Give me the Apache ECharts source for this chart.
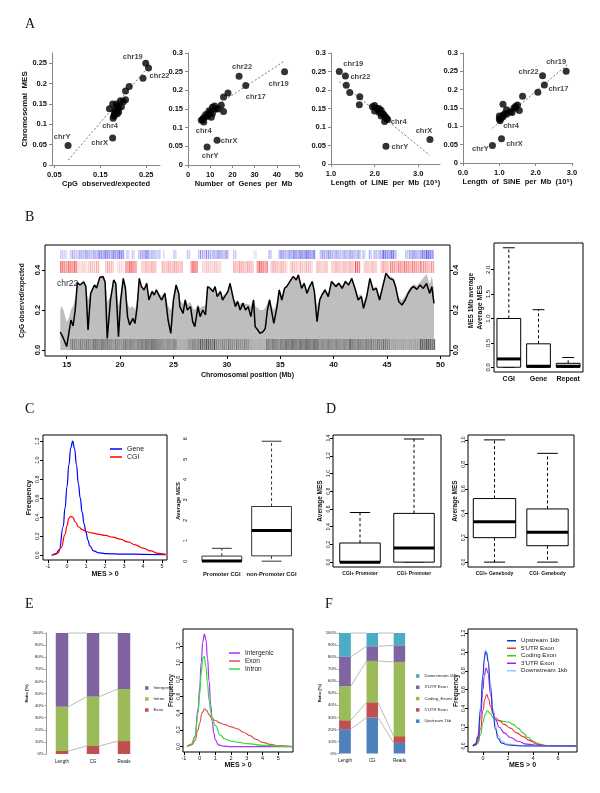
<!DOCTYPE html>
<html><head><meta charset="utf-8">
<script src="https://cdn.jsdelivr.net/npm/echarts@6/dist/echarts.min.js"></script>
<style>html,body{margin:0;padding:0;background:#fff}#c{width:600px;height:793px}</style>
</head><body><div id="c"></div>
<script>
// ================= DATA =================
// Panel A: per-chromosome values
const chrNames      = ['chr19','chr22','chr17','chr16','chr20','chr1','chr15','chr14','chr12','chr11','chr2','chr9','chr10','chr7','chr3','chr6','chr8','chr21','chr5','chr18','chr13','chr4','chrX','chrY'];
const chrMES        = [0.250,0.238,0.213,0.193,0.182,0.160,0.158,0.155,0.150,0.150,0.145,0.143,0.140,0.138,0.135,0.133,0.130,0.128,0.126,0.122,0.120,0.115,0.066,0.048];
const chrCpGoe      = [0.249,0.255,0.243,0.213,0.205,0.205,0.194,0.200,0.185,0.177,0.188,0.196,0.190,0.170,0.182,0.186,0.190,0.181,0.187,0.180,0.180,0.178,0.177,0.080];
const chrGenesPerMb = [43.5,23.0,26.0,18.0,16.0,15.0,12.0,11.0,12.5,13.5,9.5,16.0,10.0,11.0,8.0,9.0,8.5,10.5,7.0,6.5,6.0,7.1,13.1,8.6];
const chrLinePerMb  = [1.19,1.33,1.35,1.43,1.66,1.65,2.00,1.95,2.05,2.10,2.15,2.00,2.10,2.15,2.20,2.20,2.15,2.25,2.25,2.28,2.30,2.23,3.27,2.26];
const chrSinePerMb  = [2.84,2.19,2.24,2.06,1.64,1.10,1.50,1.45,1.40,1.45,1.20,1.55,1.30,1.35,1.15,1.20,1.10,1.00,1.10,1.05,1.00,1.02,1.06,0.81];
const fitCpG   = [[0.08,0.012],[0.25,0.235]];
const fitGenes = [[6,0.133],[43.6,0.279]];
const fitLine  = [[1.19,0.223],[3.26,0.024]];
const fitSine  = [[0.81,0.095],[2.87,0.268]];

// Panel B: chr22 tracks (Mb)
const bPos = [14.4,14.5,14.7,15.0,15.2,15.4,15.6,15.8,16.0,16.25,16.6,16.8,17.0,17.25,17.6,17.8,18.1,18.4,18.6,18.8,19.1,19.4,19.6,19.85,20.06,20.3,20.5,20.7,20.9,21.2,21.4,21.6,21.8,22.0,22.25,22.5,22.7,23.0,23.2,23.4,23.7,23.9,24.2,24.5,24.75,25.0,25.25,25.5,25.6,25.9,26.1,26.3,26.6,26.8,27.0,27.3,27.5,27.75,28.0,28.2,28.45,28.7,28.9,29.1,29.4,29.6,29.8,30.1,30.3,30.6,30.8,31.0,31.25,31.5,31.75,32.0,32.25,32.5,32.65,32.9,33.1,33.4,33.6,33.8,34.0,34.2,34.4,34.7,34.9,35.15,35.4,35.6,35.9,36.2,36.5,36.7,37.0,37.25,37.5,37.75,38.0,38.2,38.45,38.7,38.9,39.2,39.5,39.8,40.2,40.5,40.8,41.1,41.4,41.7,42.0,42.3,42.6,42.8,43.1,43.4,43.7,44.0,44.3,44.6,44.9,45.25,45.6,45.8,46.1,46.4,46.7,47.0,47.3,47.5,47.8,48.1,48.4,48.7,49.0,49.2,49.4];
const bMES = [0.09,0.083,0.058,0.017,0.083,0.15,0.12,0.2,0.337,0.325,0.34,0.317,0.1,0.283,0.325,0.31,0.363,0.367,0.34,0.058,0.25,0.35,0.333,0.067,0.25,0.358,0.31,0.167,0.125,0.158,0.133,0.217,0.358,0.317,0.3,0.333,0.25,0.292,0.275,0.3,0.267,0.25,0.283,0.15,0.083,0.25,0.325,0.283,0.217,0.183,0.25,0.2,0.217,0.142,0.117,0.217,0.167,0.2,0.175,0.317,0.308,0.292,0.317,0.267,0.292,0.25,0.267,0.292,0.333,0.258,0.217,0.242,0.2,0.233,0.2,0.217,0.167,0.25,0.117,0.1,0.083,0.092,0.108,0.2,0.25,0.192,0.133,0.217,0.3,0.25,0.308,0.317,0.342,0.367,0.35,0.375,0.308,0.333,0.283,0.317,0.342,0.292,0.142,0.25,0.275,0.3,0.267,0.342,0.317,0.333,0.308,0.342,0.325,0.358,0.308,0.25,0.267,0.208,0.267,0.358,0.3,0.308,0.25,0.317,0.383,0.358,0.35,0.317,0.242,0.225,0.25,0.285,0.31,0.317,0.303,0.325,0.308,0.333,0.283,0.317,0.233];
const bCpG = [0.2,0.22,0.2,0.14,0.16,0.2,0.22,0.26,0.34,0.33,0.35,0.32,0.25,0.29,0.33,0.32,0.37,0.37,0.35,0.24,0.27,0.35,0.34,0.22,0.27,0.36,0.32,0.23,0.21,0.22,0.2,0.25,0.36,0.32,0.31,0.34,0.27,0.3,0.29,0.31,0.28,0.27,0.29,0.22,0.2,0.26,0.33,0.29,0.25,0.23,0.26,0.23,0.24,0.21,0.2,0.23,0.21,0.22,0.22,0.32,0.31,0.3,0.32,0.28,0.3,0.27,0.28,0.3,0.34,0.27,0.24,0.25,0.23,0.24,0.23,0.23,0.22,0.26,0.22,0.21,0.2,0.2,0.21,0.23,0.26,0.22,0.2,0.24,0.31,0.27,0.31,0.32,0.35,0.37,0.36,0.38,0.32,0.34,0.3,0.32,0.35,0.3,0.22,0.26,0.28,0.31,0.28,0.35,0.33,0.34,0.32,0.35,0.33,0.36,0.32,0.27,0.28,0.24,0.28,0.36,0.31,0.32,0.27,0.33,0.39,0.37,0.36,0.33,0.26,0.25,0.27,0.3,0.32,0.33,0.32,0.34,0.36,0.38,0.33,0.37,0.3];
// [start Mb, end Mb, density]
const bGenes = [[14.4,15.0,0.3],[15.3,15.9,0.4],[16.0,18.0,0.5],[18.0,20.4,0.75],[20.6,20.8,0.3],[21.1,21.3,0.3],[21.7,22.2,0.45],[22.2,22.75,0.75],[22.75,23.7,0.4],[24.05,24.2,0.3],[25.0,25.2,0.3],[26.25,26.6,0.3],[27.3,28.75,0.5],[28.75,30.1,0.55],[30.6,30.9,0.3],[32.5,32.7,0.2],[33.9,34.2,0.45],[34.85,36.25,0.6],[36.25,38.3,0.8],[38.7,40.0,0.55],[40.0,42.5,0.5],[42.7,42.9,0.4],[43.3,43.5,0.4],[43.75,44.6,0.45],[44.6,45.6,0.8],[45.6,45.9,0.4],[46.7,47.2,0.45],[47.2,48.3,0.6],[48.3,49.4,0.9]];
const bCGI = [[14.4,15.9,0.8],[16.1,16.9,0.25],[17.0,18.1,0.35],[18.6,19.4,0.4],[19.7,20.3,0.2],[20.5,21.6,0.8],[22.0,23.4,0.4],[23.9,25.8,0.45],[26.6,27.3,0.85],[27.7,29.5,0.3],[30.6,32.5,0.45],[32.8,33.75,0.85],[34.1,35.6,0.4],[35.9,38.0,0.35],[38.4,39.5,0.35],[39.8,41.9,0.4],[42.0,42.5,0.85],[42.8,44.1,0.35],[44.4,45.2,0.45],[45.3,48.2,0.65],[48.2,49.4,0.55]];
const bRepeat = [[15.3,17.5,0.5],[17.5,18.8,0.7],[18.8,20.5,0.5],[20.5,22.0,0.55],[22.0,23.5,0.75],[23.5,25.3,0.5],[25.3,26.4,0.15],[26.4,27.3,0.5],[27.3,28.8,0.75],[28.8,32.0,0.45],[32.0,33.7,0.12],[33.7,35.5,0.6],[35.5,38.5,0.8],[38.5,41.5,0.55],[41.5,43.5,0.6],[43.5,45.2,0.55],[45.2,48.1,0.2],[48.1,49.5,0.85]];
const bBoxCats = ['CGI','Gene','Repeat'];
// [min, q1, median, q3, max]
const bBoxStats = [[0,0,0.17,1.0,2.45],[0,0,0.02,0.48,1.18],[0,0,0.02,0.08,0.2]];

// Panel C
const cGeneX = [-0.8,-0.6,-0.4,-0.2,-0.1,0.0,0.1,0.2,0.3,0.4,0.5,0.6,0.7,0.8,0.9,1.0,1.1,1.2,1.4,1.7,2.0,3.0,4.0,5.2];
const cGeneY = [0.0,0.01,0.06,0.3,0.5,0.72,0.95,1.13,1.2,1.12,0.95,0.75,0.6,0.45,0.33,0.24,0.16,0.1,0.045,0.025,0.018,0.012,0.01,0.005];
const cCgiX  = [-0.8,-0.5,-0.3,-0.1,0.0,0.1,0.2,0.3,0.45,0.6,0.8,1.0,1.3,1.7,2.0,2.4,2.8,3.2,3.6,4.0,4.4,4.8,5.2];
const cCgiY  = [0.0,0.02,0.08,0.22,0.31,0.39,0.41,0.4,0.35,0.3,0.27,0.25,0.235,0.22,0.21,0.19,0.17,0.14,0.11,0.075,0.045,0.02,0.01];
const cBoxCats = ['Promoter CGI','non-Promoter CGI'];
const cBoxStats = [[0,0,0.01,0.25,0.63],[0,0.26,1.5,2.68,5.88]];

// Panel D
const dLeftCats = ['CGI+ Promoter','CGI- Promoter'];
const dLeftStats = [[0,0,0.0,0.216,0.56],[0,0,0.16,0.55,1.39]];
const dRightCats = ['CGI+ Genebody','CGI- Genebody'];
const dRightStats = [[0,0.2,0.33,0.52,1.0],[0,0.134,0.245,0.435,0.89]];

// Panel E
const eCats = ['Length','CG','Reads'];
const eExon = [2.5,6.6,10.7];
const eIntron = [36.5,40.8,43.0];
const eIntergenic = [61.0,52.6,46.3];
const eIntergenicX = [-0.8,-0.5,-0.3,-0.1,0.0,0.1,0.2,0.3,0.4,0.5,0.6,0.7,0.8,0.9,1.0,1.2,1.5,2.0,3.0,5.9];
const eIntergenicY = [0,0.03,0.12,0.45,0.7,1.0,1.25,1.34,1.27,1.05,0.78,0.5,0.3,0.16,0.08,0.02,0.005,0,0,0];
const eExonX = [-0.8,-0.5,-0.3,-0.1,0.0,0.15,0.3,0.45,0.6,0.8,1.0,1.3,1.6,2.0,2.4,2.8,3.2,3.6,4.0,4.5,5.0,5.9];
const eExonY = [0,0.02,0.07,0.2,0.28,0.4,0.45,0.43,0.38,0.33,0.31,0.28,0.26,0.235,0.21,0.17,0.13,0.085,0.05,0.025,0.01,0];
const eIntronX = [-0.8,-0.5,-0.3,-0.1,0.0,0.1,0.2,0.3,0.4,0.5,0.6,0.7,0.8,1.0,1.3,1.6,2.0,2.5,3.0,4.0,5.0,5.9];
const eIntronY = [0,0.03,0.12,0.4,0.62,0.88,1.05,1.07,0.95,0.75,0.55,0.42,0.34,0.25,0.14,0.09,0.065,0.05,0.035,0.015,0.005,0];

// Panel F
const fCats = ['Length','CG','Reads'];
const fUpstream = [20.2,29.8,8.8];
const fUtr5 = [7.4,12.7,5.6];
const fCoding = [28.2,34.3,61.6];
const fUtr3 = [24.4,12.2,13.8];
const fDownstream = [19.8,11.0,10.2];
const fUpX = [-0.8,-0.6,-0.4,-0.2,0,0.1,0.2,0.3,0.4,0.6,0.8,1.0,1.2,1.5,2.0,3.0,5.0,7.5];
const fUpY = [0,0.02,0.1,0.38,0.75,0.92,1.0,0.98,0.9,0.62,0.35,0.18,0.08,0.03,0.01,0,0,0];
const fDownX = [-0.8,-0.6,-0.4,-0.2,0,0.1,0.2,0.3,0.4,0.6,0.8,1.0,1.2,1.5,2.0,3.0,5.0,7.5];
const fDownY = [0,0.03,0.13,0.42,0.78,0.95,1.02,1.0,0.93,0.67,0.4,0.22,0.11,0.05,0.02,0.005,0,0];
const fUtr3X = [-0.8,-0.6,-0.4,-0.2,0,0.1,0.25,0.4,0.6,0.8,1.0,1.3,1.7,2.2,2.8,3.5,4.5,7.5];
const fUtr3Y = [0,0.02,0.08,0.3,0.6,0.75,0.83,0.78,0.55,0.38,0.28,0.2,0.14,0.09,0.05,0.02,0.005,0];
const fUtr5X = [-0.8,-0.6,-0.4,-0.2,0,0.15,0.3,0.45,0.6,0.8,1.0,1.3,1.7,2.2,2.7,3.2,3.7,4.3,5.0,7.5];
const fUtr5Y = [0,0.01,0.05,0.18,0.38,0.5,0.55,0.5,0.42,0.34,0.3,0.27,0.23,0.19,0.14,0.1,0.06,0.02,0.005,0];
const fCodingX = [-0.8,-0.6,-0.4,-0.2,0,0.15,0.35,0.55,0.8,1.0,1.3,1.7,2.0,2.4,2.8,3.2,3.6,4.0,4.5,5.0,7.5];
const fCodingY = [0,0.01,0.03,0.12,0.25,0.33,0.375,0.35,0.3,0.28,0.27,0.26,0.255,0.23,0.19,0.14,0.09,0.05,0.02,0.005,0];

// ================= BUILD =================
const FONT = "'Liberation Sans', Arial, sans-serif";
const NARROW = "'Liberation Sans Narrow', 'Liberation Sans', Arial, sans-serif";
const grid = [], xAxis = [], yAxis = [], series = [], legend = [], graphic = [];
const EXCEL = {blue:'#4F81BD', red:'#C0504D', green:'#9BBB59', purple:'#8064A2', aqua:'#4BACC6'};

function G(l,t,w,h,border){grid.push({left:l,top:t,width:w,height:h,show:!!border,borderColor:'#000',borderWidth:1,backgroundColor:'rgba(0,0,0,0)'});return grid.length-1;}
function tx(size,bold,fam,color){return {fontSize:size,fontWeight:bold?'bold':'normal',fontFamily:fam||FONT,color:color||'#111'};}
function range(a,b,s){const r=[];for(let v=a;v<=b+1e-9;v+=s)r.push(+v.toFixed(6));return r;}
function vAxis(o){
  const ax={type:'value',gridIndex:o.g,min:o.min,max:o.max,position:o.position,offset:o.offset||0,
    axisLine:{show:!!o.line,onZero:false,lineStyle:{color:o.lineColor||'#000',width:1}},
    axisTick:{show:o.showTicks!==false,customValues:o.ticks,length:o.tickLen||3,inside:false,lineStyle:{color:o.lineColor||'#000'}},
    axisLabel:Object.assign({customValues:o.ticks,margin:o.margin==null?4:o.margin,rotate:o.rotate||0,formatter:o.fmt,hideOverlap:false,showMinLabel:true,showMaxLabel:true},tx(o.size||7,o.bold,o.fam)),
    splitLine:{show:false}};
  if(o.name){ax.name=o.name;ax.nameLocation='middle';ax.nameGap=o.nameGap;ax.nameTextStyle=tx(o.nameSize||7,o.nameBold!==false,o.nameFam);}
  return ax;
}
function cAxis(o){
  const ax={type:'category',gridIndex:o.g,data:o.data,boundaryGap:true,offset:o.offset||0,
    axisLine:{show:!!o.line,lineStyle:{color:o.lineColor||'#000'}},
    axisTick:{show:!!o.showTicks,alignWithLabel:true,length:3,lineStyle:{color:o.lineColor||'#000'}},
    axisLabel:Object.assign({margin:o.margin==null?4:o.margin,interval:0,hideOverlap:false},tx(o.size||7,o.bold,o.fam)),
    splitLine:{show:false}};
  return ax;
}
function addX(a){xAxis.push(a);return xAxis.length-1;}
function addY(a){yAxis.push(a);return yAxis.length-1;}
const f1 = v=>v.toFixed(1);

// ---------- Panel A ----------
const labelOffsets = [
  {chr19:[-13,-6],chr22:[11,8],chr4:[-3,8],chrX:[-13,5],chrY:[-6,-9]},
  {chr22:[3,-9],chr17:[10,11],chr19:[-6,12],chr4:[0,9],chrX:[12,1],chrY:[3,9]},
  {chr19:[14,-8],chr22:[15,1],chr4:[14,0],chrX:[-6,-9],chrY:[14,1]},
  {chr19:[-10,-9],chr22:[-14,-4],chr17:[14,4],chr4:[11,5],chrX:[13,5],chrY:[-12,4]}
];
const aPlots = [
  {x:chrCpGoe, fit:fitCpG, g:[52,53,108,112], xmin:0.045, xmax:0.28, xt:[0.05,0.15,0.25], xf:v=>v.toFixed(2), ymax:0.275, yt:range(0,0.25,0.05), xname:'CpG  observed/expected', yname:'Chromosomal  MES'},
  {x:chrGenesPerMb, fit:fitGenes, g:[188,53,111,112], xmin:0, xmax:50, xt:range(0,50,10), xf:v=>String(v), ymax:0.3, yt:range(0,0.3,0.05), xname:'Number  of  Genes  per  Mb'},
  {x:chrLinePerMb, fit:fitLine, g:[331,53,109,111], xmin:1.0, xmax:3.5, xt:[1,2,3], xf:f1, ymax:0.3, yt:range(0,0.3,0.05), xname:'Length  of  LINE  per  Mb  (10\u2075)'},
  {x:chrSinePerMb, fit:fitSine, g:[463,53,109,110], xmin:0, xmax:3.0, xt:[0,1,2,3], xf:f1, ymax:0.3, yt:range(0,0.3,0.05), xname:'Length  of  SINE  per  Mb  (10\u2075)'}
];
aPlots.forEach((p,pi)=>{
  const g=G(p.g[0],p.g[1],p.g[2],p.g[3],false);
  const xi=addX(vAxis({g,min:p.xmin,max:p.xmax,ticks:p.xt,fmt:p.xf,line:true,lineColor:'#888',size:7.5,bold:true,margin:6,name:p.xname,nameGap:15,nameSize:7.5}));
  xAxis[xi].axisLabel.color='#111';
  const yo={g,min:0,max:p.ymax,ticks:p.yt,fmt:v=>String(+v.toFixed(2)),line:true,lineColor:'#888',size:7.5,bold:true,margin:5};
  if(p.yname){yo.name=p.yname;yo.nameGap=19;yo.nameSize=8;}
  const yi=addY(vAxis(yo));
  series.push({type:'line',xAxisIndex:xi,yAxisIndex:yi,data:p.fit,symbol:'none',silent:true,z:1,
    lineStyle:{color:'#555',width:0.8,type:[2,2]}});
  const offs=labelOffsets[pi];
  series.push({type:'scatter',xAxisIndex:xi,yAxisIndex:yi,symbolSize:7,silent:true,z:3,itemStyle:{color:'#000'},
    data:chrNames.map((n,i)=>{
      const d={name:n,value:[p.x[i],chrMES[i]]};
      if(offs[n]) d.label={show:true,position:'inside',offset:offs[n],formatter:n,fontSize:7.5,fontWeight:'bold',fontFamily:FONT,color:'#111'};
      return d;
    })});
});

// ---------- Panel B ----------
function trackRender(color,v0,v1){
  return (params,api)=>{
    const s=api.value(0),e=api.value(1),a=api.value(2);
    const p0=api.coord([s,v1]),p1=api.coord([e,v0]);
    const h=p1[1]-p0[1];
    const ch=[{type:'rect',shape:{x:p0[0],y:p0[1],width:Math.max(1,p1[0]-p0[0]),height:h},style:{fill:color,opacity:a*0.3}}];
    for(let x=p0[0];x<p1[0];x+=2){
      const k=Math.floor(x);
      const m=0.35+0.65*((k*37)%11)/10;
      ch.push({type:'rect',shape:{x:x,y:p0[1],width:1,height:h},style:{fill:color,opacity:Math.min(1,a*m)}});
    }
    return {type:'group',children:ch};
  };
}
{
  const g=G(45,245,405,111,true);
  const xi=addX(vAxis({g,min:12.97,max:50.9,ticks:range(15,50,5),fmt:v=>String(v),size:8,bold:true,fam:NARROW,margin:5,name:'Chromosomal position (Mb)',nameGap:16,nameSize:7,nameFam:NARROW}));
  const yl=addY(vAxis({g,min:-0.03,max:0.525,ticks:[0,0.2,0.4],fmt:f1,rotate:90,size:7.5,bold:true,margin:3,name:'CpG observed/expected',nameGap:12,nameSize:6.5}));
  const yr=addY(vAxis({g,min:-0.03,max:0.525,ticks:[0,0.2,0.4],fmt:f1,rotate:90,size:7.5,bold:true,margin:2,position:'right',name:'MES 1Mb average',nameGap:9,nameSize:6.5}));
  series.push({type:'line',xAxisIndex:xi,yAxisIndex:yl,data:bPos.map((x,i)=>[x,bCpG[i]]),symbol:'none',silent:true,z:1,
    lineStyle:{width:0},areaStyle:{color:'#BEBEBE',opacity:1,origin:0}});
  series.push({type:'custom',xAxisIndex:xi,yAxisIndex:yl,data:bRepeat,silent:true,z:2,renderItem:trackRender('#3a3a3a',0.0,0.055)});
  series.push({type:'custom',xAxisIndex:xi,yAxisIndex:yl,data:bGenes,silent:true,z:2,renderItem:trackRender('#3535e0',0.455,0.5)});
  series.push({type:'custom',xAxisIndex:xi,yAxisIndex:yl,data:bCGI,silent:true,z:2,renderItem:trackRender('#ee2a2a',0.385,0.445)});
  series.push({type:'line',xAxisIndex:xi,yAxisIndex:yr,data:bPos.map((x,i)=>[x,bMES[i]]),symbol:'none',silent:true,z:3,
    lineStyle:{color:'#000',width:1.5}});
  graphic.push({type:'text',left:57,top:279,style:{text:'chr22',fontSize:8.5,fontFamily:NARROW,fill:'#333'}});
}
function boxSeries(xi,yi,stats,widths,col){
  const c0=col||'#000';
  series.push({type:'custom',xAxisIndex:xi,yAxisIndex:yi,silent:true,z:3,
    data:stats.map((s,i)=>[widths.isValue?i+1:i].concat(s)),
    renderItem:(p,api)=>{
      const c=api.value(0);const v=[1,2,3,4,5].map(k=>api.value(k));
      const bw=api.size([1,0])[0]*widths.w[p.dataIndex];
      const x=api.coord([c,0])[0];const Y=t=>api.coord([c,t])[1];
      const dash={stroke:c0,lineWidth:1,lineDash:[3,2.5]};const solid={stroke:c0,lineWidth:1};
      return {type:'group',children:[
        {type:'line',shape:{x1:x,y1:Y(v[3]),x2:x,y2:Y(v[4])},style:dash},
        {type:'line',shape:{x1:x,y1:Y(v[1]),x2:x,y2:Y(v[0])},style:dash},
        {type:'line',shape:{x1:x-bw/4,y1:Y(v[4]),x2:x+bw/4,y2:Y(v[4])},style:solid},
        {type:'line',shape:{x1:x-bw/4,y1:Y(v[0]),x2:x+bw/4,y2:Y(v[0])},style:solid},
        {type:'rect',shape:{x:x-bw/2,y:Y(v[3]),width:bw,height:Y(v[1])-Y(v[3])},style:{fill:'#fff',stroke:c0,lineWidth:1}},
        {type:'line',shape:{x1:x-bw/2,y1:Y(v[2]),x2:x+bw/2,y2:Y(v[2])},style:{stroke:'#000',lineWidth:3}}
      ]};
    }});
}
{
  const g=G(494,243,89,129,true);
  const xi=addX(cAxis({g,data:bBoxCats,size:7,bold:true,fam:NARROW,margin:4}));
  const yi=addY(vAxis({g,min:-0.098,max:2.548,ticks:range(0,2,0.5),fmt:f1,rotate:90,size:6,margin:3,name:'Average MES',nameGap:10,nameSize:7}));
  boxSeries(xi,yi,bBoxStats,{w:[0.8,0.8,0.8]});
}

// ---------- Panel C ----------
function dens(name,xs,ys,color,xi,yi,w){
  series.push({type:'line',name,xAxisIndex:xi,yAxisIndex:yi,data:xs.map((x,i)=>[x,ys[i]]),smooth:true,smoothMonotone:'x',
    symbol:'none',silent:true,z:3,lineStyle:{color,width:w||1.2},itemStyle:{color}});
}
function lineLegend(names,left,top,iw,fs,lh){
  legend.push({data:names,left,top,orient:'vertical',itemWidth:iw,itemHeight:1.5,itemGap:0,icon:'rect',padding:0,selectedMode:false,
    formatter:n=>n.split('|')[1],textStyle:Object.assign(tx(fs,false,FONT,'#222'),{lineHeight:lh})});
}
{
  const g=G(43,435,124,125,true);
  const xi=addX(vAxis({g,min:-1.26,max:5.26,ticks:range(-1,5,1),fmt:v=>String(v),size:5.5,margin:3,name:'MES > 0',nameGap:11,nameSize:7}));
  const yi=addY(vAxis({g,min:-0.05,max:1.265,ticks:range(0,1.2,0.2),fmt:f1,rotate:90,size:5.5,margin:3,name:'Frequency',nameGap:10,nameSize:7}));
  dens('C|Gene',cGeneX,cGeneY,'#0000FF',xi,yi,1.2);
  dens('C|CGI',cCgiX,cCgiY,'#FF0000',xi,yi,1.2);
  lineLegend(['C|Gene','C|CGI'],110,445,12,7,8);
}
{
  const g=G(197,436,99.4,130,false);
  const xi=addX(cAxis({g,data:cBoxCats,size:5.8,bold:true,margin:5}));
  const yi=addY(vAxis({g,min:-0.236,max:6.136,ticks:range(0,6,1),fmt:v=>String(v),rotate:90,size:5.5,margin:9,showTicks:false,name:'Average MES',nameGap:15,nameSize:6}));
  boxSeries(xi,yi,cBoxStats,{w:[0.8,0.8]},'#333');
}

// ---------- Panel D ----------
{
  const g=G(333,435,108,132,true);
  const xi=addX(cAxis({g,data:dLeftCats,size:5,bold:true,margin:4}));
  const yi=addY(vAxis({g,min:-0.055,max:1.435,ticks:range(0,1.4,0.2),fmt:f1,rotate:90,size:5,margin:2,name:'Average MES',nameGap:9,nameSize:6.5}));
  boxSeries(xi,yi,dLeftStats,{w:[0.75,0.75]});
}
{
  const g=G(468,435,106,132,true);
  const xi=addX(cAxis({g,data:dRightCats,size:5,bold:true,margin:4}));
  const yi=addY(vAxis({g,min:-0.04,max:1.04,ticks:range(0,1,0.2),fmt:f1,rotate:90,size:5,margin:2,name:'Average MES',nameGap:9,nameSize:6.5}));
  boxSeries(xi,yi,dRightStats,{w:[0.8,0.78]});
}

// ---------- Panels E/F stacked bars ----------
function stackedBars(prefix,g,cats,layers,barW,yOffset){
  const xi=addX(cAxis({g,data:cats,size:4.5,margin:5,line:false}));
  const yi=addY(vAxis({g,min:0,max:100,ticks:range(0,100,10),fmt:v=>v+'%',size:4.2,margin:3,line:true,lineColor:'#999',tickLen:2,offset:yOffset||0,name:'Ratio (%)',nameGap:15,nameSize:4.2}));
  layers.forEach(l=>series.push({type:'bar',name:prefix+'|'+l.name,xAxisIndex:xi,yAxisIndex:yi,stack:prefix,data:l.values,barWidth:barW,silent:true,itemStyle:{color:l.color}}));
  const segs=[];let cum=cats.map(()=>0);
  layers.forEach(l=>{cum=cum.map((c,i)=>c+l.values[i]);for(let i=0;i<cats.length-1;i++)segs.push([i,cum[i],cum[i+1]]);});
  series.push({type:'custom',xAxisIndex:xi,yAxisIndex:yi,data:segs,silent:true,z:3,renderItem:(p,api)=>{
    const i=api.value(0);const a=api.coord([i,api.value(1)]);const b=api.coord([i+1,api.value(2)]);
    return {type:'line',shape:{x1:a[0]+barW/2,y1:a[1],x2:b[0]-barW/2,y2:b[1]},style:{stroke:'#aaa',lineWidth:0.8}};
  }});
}
function boxLegend(names,left,top,gap){
  legend.push({data:names,left,top,orient:'vertical',itemWidth:3.5,itemHeight:3.5,itemGap:gap,icon:'rect',padding:0,selectedMode:false,
    formatter:n=>n.split('|')[1],textStyle:Object.assign(tx(4.3,false,FONT,'#222'),{lineHeight:6})});
}
{
  const g=G(46.5,633,93,121,false);
  stackedBars('E',g,eCats,[
    {name:'Exon',values:eExon,color:EXCEL.red},
    {name:'Intron',values:eIntron,color:EXCEL.green},
    {name:'Intergenic',values:eIntergenic,color:EXCEL.purple}],12.5);
  boxLegend(['E|Intergenic','E|Intron','E|Exon'],145,685,5);
}
{
  const g=G(331.5,633,81.5,120.5,false);
  stackedBars('F',g,fCats,[
    {name:'Upstream 1kb',values:fUpstream,color:EXCEL.blue},
    {name:"5'UTR Exon",values:fUtr5,color:EXCEL.red},
    {name:'Coding_Exons',values:fCoding,color:EXCEL.green},
    {name:"3'UTR Exon",values:fUtr3,color:EXCEL.purple},
    {name:'Downstream 1kb',values:fDownstream,color:EXCEL.aqua}],11.5,-8);
  boxLegend(['F|Downstream 1kb',"F|3'UTR Exon",'F|Coding_Exons',"F|5'UTR Exon",'F|Upstream 1kb'],416,673,5.3);
}

// ---------- Panels E/F densities ----------
{
  const g=G(183,629,110,123,true);
  const xi=addX(vAxis({g,min:-1.06,max:5.94,ticks:range(-1,5,1),fmt:v=>String(v),size:5.5,margin:3,name:'MES > 0',nameGap:10,nameSize:7}));
  const yi=addY(vAxis({g,min:-0.065,max:1.4,ticks:range(0,1.2,0.2),fmt:f1,rotate:90,size:5,margin:2,name:'Frequency',nameGap:8,nameSize:6.5}));
  dens('Ed|Intergenic',eIntergenicX,eIntergenicY,'#B030F0',xi,yi,1.2);
  dens('Ed|Exon',eExonX,eExonY,'#DD5555',xi,yi,1.2);
  dens('Ed|Intron',eIntronX,eIntronY,'#33DD33',xi,yi,1.2);
  lineLegend(['Ed|Intergenic','Ed|Exon','Ed|Intron'],229,649,11,6.5,8);
}
{
  const g=G(468,629,109,123,true);
  const xi=addX(vAxis({g,min:-1.2,max:7.52,ticks:[0,2,4,6],fmt:v=>String(v),size:5.5,margin:3,name:'MES > 0',nameGap:10,nameSize:7}));
  const yi=addY(vAxis({g,min:-0.064,max:1.245,ticks:range(0,1.2,0.2),fmt:f1,rotate:90,size:5,margin:2,name:'Frequency',nameGap:8,nameSize:6.5}));
  dens('Fd|Coding Exon',fCodingX,fCodingY,'#33CC33',xi,yi,1.1);
  dens("Fd|5'UTR Exon",fUtr5X,fUtr5Y,'#EE3333',xi,yi,1.1);
  dens("Fd|3'UTR Exon",fUtr3X,fUtr3Y,'#A020F0',xi,yi,1.1);
  dens('Fd|Downstream 1kb',fDownX,fDownY,'#87CEFA',xi,yi,1.1);
  dens('Fd|Upstream 1kb',fUpX,fUpY,'#2233CC',xi,yi,1.1);
  lineLegend(['Fd|Upstream 1kb',"Fd|5'UTR Exon",'Fd|Coding Exon',"Fd|3'UTR Exon",'Fd|Downstream 1kb'],507,637,9,6.2,7.5);
}

// ---------- panel letters ----------
[['A',25,17],['B',25,210],['C',25,402],['D',326,402],['E',25,597],['F',325,597]].forEach(t=>{
  graphic.push({type:'text',left:t[1],top:t[2],style:{text:t[0],fontSize:14,fontFamily:"'Liberation Serif', 'DejaVu Serif', serif",fill:'#111'}});
});

const chart = echarts.init(document.getElementById('c'), null, {renderer:'canvas', width:600, height:793});
chart.setOption({animation:false, backgroundColor:'#fff', textStyle:{fontFamily:FONT},
  grid, xAxis, yAxis, series, legend, graphic});
</script></body></html>
